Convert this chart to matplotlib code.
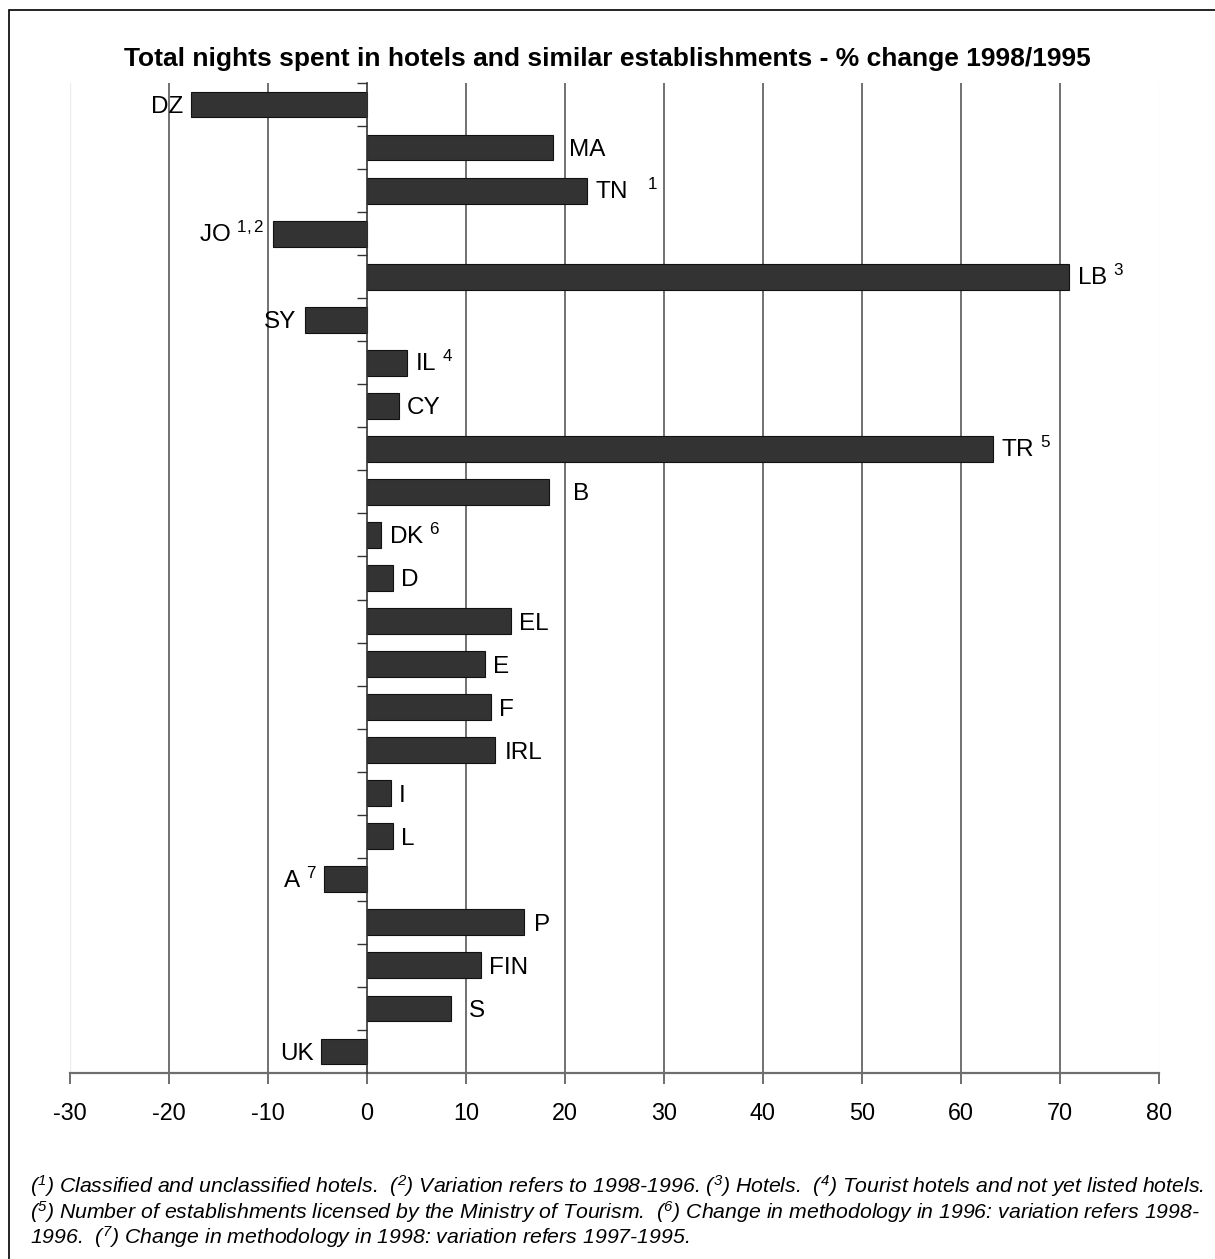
import matplotlib
matplotlib.use("Agg")
import matplotlib.pyplot as plt
from matplotlib.patches import Rectangle
from matplotlib.ticker import FixedLocator, NullLocator

plt.rcParams["font.family"] = ["Liberation Sans", "DejaVu Sans"]
plt.rcParams["mathtext.fontset"] = "custom"
plt.rcParams["mathtext.rm"] = "Liberation Sans"
plt.rcParams["mathtext.it"] = "Liberation Sans:italic"
plt.rcParams["mathtext.bf"] = "Liberation Sans:bold"

# Countries, top to bottom
countries = ["DZ", "MA", "TN", "JO", "LB", "SY", "IL", "CY", "TR", "B", "DK", "D",
             "EL", "E", "F", "IRL", "I", "L", "A", "P", "FIN", "S", "UK"]
# % change in nights spent, 1998/1995
change = [-17.8, 18.8, 22.2, -9.5, 70.9, -6.3, 4.0, 3.2, 63.2, 18.4, 1.4, 2.6,
          14.5, 11.9, 12.5, 12.9, 2.4, 2.6, -4.3, 15.9, 11.5, 8.5, -4.6]
# footnote markers attached to each country label
notes = ["", "", "1", "1, 2", "3", "", "4", "", "5", "", "6", "",
         "", "", "", "", "", "", "7", "", "", "", ""]
# extra horizontal spacing (pixels) of a few labels
extra_gap = [0, 8, 0, 0, 0, 0, 0, 0, 0, 16, 0, 0,
             0, 0, 0, 2, 0, 0, 0, 2, 0, 10, 0]

xticks = [-30, -20, -10, 0, 10, 20, 30, 40, 50, 60, 70, 80]

W, H = 1215, 1259
fig = plt.figure(figsize=(W / 100, H / 100), dpi=100)
ax = fig.add_axes([70 / W, 1 - 1073 / H, (1159 - 70) / W, (1073 - 83) / H])

n = len(countries)
ypos = list(range(n))

# vertical gridlines
for xv in xticks:
    if xv in (xticks[0], xticks[-1]):
        ax.axvline(xv, color="#ececec", lw=1.0, zorder=0)
    elif xv != 0:
        ax.axvline(xv, color="#4a4a4a", lw=1.1, zorder=0)

ax.barh(ypos, change, height=0.6, color="#333333", edgecolor="#111111",
        linewidth=0.8, zorder=2)

ax.set_xlim(-30, 80)
ax.set_ylim(n - 0.5, -0.5)

# country labels beside the bar ends
for y, v, name, note, g in zip(ypos, change, countries, notes, extra_gap):
    if note:
        sep = "   " if name == "TN" else " "
        label = name + sep + r"$^{\mathdefault{" + note + "}}$"
    else:
        label = name
    gap = 8 + g
    if v >= 0:
        ax.annotate(label, (v, y), xytext=(gap, -8.5), textcoords="offset pixels",
                    ha="left", va="baseline", fontsize=17.5, zorder=3)
    else:
        ax.annotate(label, (v, y), xytext=(-gap, -8.5), textcoords="offset pixels",
                    ha="right", va="baseline", fontsize=17.5, zorder=3)

# axes styling
for s in ("top", "right"):
    ax.spines[s].set_visible(False)
ax.spines["left"].set_position(("data", 0))
ax.spines["left"].set_color("#333333")
ax.spines["left"].set_linewidth(1.2)
ax.spines["left"].set_zorder(4)
ax.spines["bottom"].set_color("#6e6e6e")
ax.spines["bottom"].set_linewidth(1.6)

ax.yaxis.set_major_locator(NullLocator())
ax.yaxis.set_minor_locator(FixedLocator([i - 0.5 for i in range(n)]))
ax.tick_params(axis="y", which="minor", direction="out", length=7,
               width=1.0, color="#333333")

ax.set_xticks(xticks)
ax.set_xticklabels([str(t) for t in xticks])
ax.tick_params(axis="x", direction="out", length=8, width=1.4,
               color="#6e6e6e", pad=13, labelsize=16.8)

fig.text(0.5, 1 - 59 / H,
         "Total nights spent in hotels and similar establishments - % change 1998/1995",
         ha="center", va="center", fontsize=19, fontweight="bold")

def sup(d):
    return r"($^{\mathdefault{" + d + "}}$)"

foot = [
    sup("1") + " Classified and unclassified hotels.  " + sup("2")
    + " Variation refers to 1998-1996. " + sup("3") + " Hotels.  " + sup("4")
    + " Tourist hotels and not yet listed hotels.",
    sup("5") + " Number of establishments licensed by the Ministry of Tourism.  "
    + sup("6") + " Change in methodology in 1996: variation refers 1998-",
    "1996.  " + sup("7") + " Change in methodology in 1998: variation refers 1997-1995.",
]
for i, line in enumerate(foot):
    fig.text(30 / W, 1 - (1193 + 25.5 * i) / H, line, ha="left", va="baseline",
             fontsize=15.3, fontstyle="italic")

# outer frame
fig.patches.append(Rectangle((9 / W, -0.05), 1.2, 1 - 10 / H + 0.05,
                             transform=fig.transFigure, fill=False,
                             edgecolor="black", linewidth=1.2))

fig.savefig("out.png", dpi=100)
